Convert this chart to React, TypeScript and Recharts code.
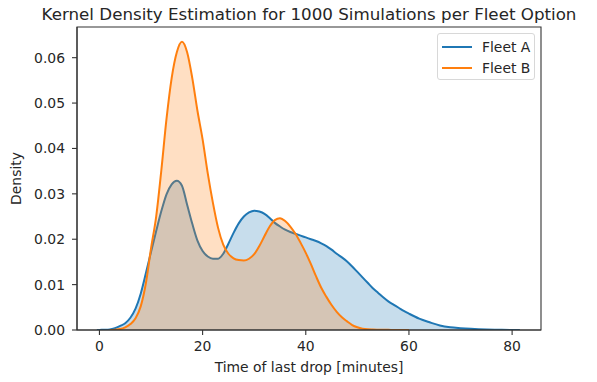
import { ComposedChart, Area, XAxis, YAxis, Legend, Label, ReferenceArea } from 'recharts';

// time of last drop, minutes (Fleet A grid)
const timesA = [
  -0.5, 0, 1, 2, 3, 4, 5, 6, 7, 8, 9, 10, 11, 12, 13, 14, 15, 16, 17, 18, 19, 20,
  21, 22, 23, 24, 25, 26, 27, 28, 29, 30, 31, 32, 33, 34, 35, 36, 37, 38, 39, 40,
  41, 42, 43, 44, 45, 46, 47, 48, 49, 50, 51, 52, 53, 54, 55, 56, 57, 58, 59, 60,
  62, 64, 66, 68, 70, 72, 75, 78, 81.5,
];
const fleetA = [
  0, 0.00002, 0.00005, 0.00012, 0.0004, 0.0009, 0.0015, 0.0027, 0.0047, 0.008, 0.0125, 0.0172,
  0.0218, 0.0262, 0.0299, 0.0321, 0.0329, 0.0318, 0.0276, 0.0234, 0.0197, 0.0174,
  0.0162, 0.0157, 0.0157, 0.0168, 0.019, 0.0214, 0.0235, 0.025, 0.0259, 0.0263,
  0.0261, 0.0256, 0.0247, 0.0236, 0.0228, 0.0221, 0.0216, 0.0212, 0.0208, 0.0204,
  0.02, 0.0196, 0.0191, 0.0185, 0.0177, 0.0168, 0.016, 0.0151, 0.014, 0.0128,
  0.0116, 0.0104, 0.0092, 0.0082, 0.0072, 0.0063, 0.0056, 0.0049, 0.0042, 0.0036,
  0.0025, 0.0017, 0.001, 0.0006, 0.0004, 0.00025, 0.0001, 0.00004, 0,
];

// Fleet B covers a shorter range
const timesB = [
  2, 3, 4, 5, 6, 7, 8, 9, 10, 11, 12, 13, 14, 15, 16, 17, 18, 19, 20, 21, 22, 23,
  24, 25, 26, 27, 28, 29, 30, 31, 32, 33, 34, 35, 36, 37, 38, 39, 40, 41, 42, 43,
  44, 45, 46, 47, 48, 49, 50, 51, 52, 53, 54, 55, 56, 57, 58, 59, 60,
];
const fleetB = [
  0, 0.00005, 0.0002, 0.0006, 0.0013, 0.0026, 0.0052, 0.0103, 0.018, 0.025, 0.0352, 0.0465,
  0.0555, 0.0612, 0.0635, 0.0612, 0.0555, 0.0483, 0.042, 0.0345, 0.028, 0.0225,
  0.0188, 0.0168, 0.0158, 0.0154, 0.0153, 0.0157, 0.0167, 0.0185, 0.0207, 0.0228,
  0.0242, 0.0246, 0.024, 0.0228, 0.0212, 0.0192, 0.017, 0.0145, 0.0118, 0.0093,
  0.0073, 0.0055, 0.004, 0.0028, 0.0019, 0.0011, 0.0006, 0.0003, 0.00015, 0.0001,
  0.00006, 0.00004, 0.00003, 0.00002, 0.00001, 0.00001, 0,
];

const xTicks = [0, 20, 40, 60, 80];
const yTicks = [0, 0.01, 0.02, 0.03, 0.04, 0.05, 0.06];
const xDomain = [-4.35, 85.6];
const yDomain = [0, 0.06676];

const series = [
  { key: 'a', name: 'Fleet A', color: '#1f77b4' },
  { key: 'b', name: 'Fleet B', color: '#ff7f0e' },
];

const rows = timesA.map((t, i) => {
  const j = timesB.indexOf(t);
  return { t, a: fleetA[i], b: j >= 0 ? fleetB[j] : null };
});

const FONT = '"DejaVu Sans", sans-serif';
const TEXT = '#262626';
const tickStyle = { fontSize: 13.9, fill: TEXT, fontFamily: FONT };

function LegendBox() {
  return (
    <div
      style={{
        width: 98,
        height: 47,
        boxSizing: 'border-box',
        border: '1px solid #d8d8d8',
        borderRadius: 3,
        background: 'rgba(255,255,255,0.8)',
        fontFamily: FONT,
        fontSize: 13.9,
        color: TEXT,
        position: 'relative',
      }}
    >
      {series.map((s, i) => (
        <div
          key={s.key}
          style={{ position: 'absolute', left: 4, top: 4 + i * 20.7, height: 18, display: 'flex', alignItems: 'center' }}
        >
          <span style={{ display: 'inline-block', width: 30, height: 2, background: s.color }} />
          <span style={{ marginLeft: 10, lineHeight: '18px' }}>{s.name}</span>
        </div>
      ))}
    </div>
  );
}

export default function App() {
  return (
    <div style={{ position: 'absolute', left: 0, top: 0, width: 597, height: 382, background: '#fff' }}>
      <div
        style={{
          position: 'absolute',
          left: 0,
          width: 618,
          top: 6,
          textAlign: 'center',
          fontFamily: FONT,
          fontSize: 16.7,
          lineHeight: '16.7px',
          color: TEXT,
          whiteSpace: 'nowrap',
        }}
      >
        Kernel Density Estimation for 1000 Simulations per Fleet Option
      </div>
      <ComposedChart
        width={597}
        height={382}
        data={rows}
        margin={{ top: 27, right: 56, bottom: 0, left: 0 }}
      >
        <XAxis
          dataKey="t"
          type="number"
          domain={xDomain}
          ticks={xTicks}
          allowDataOverflow
          height={52}
          tickSize={5}
          tickMargin={6}
          tick={tickStyle}
          stroke="#333"
          strokeWidth={1.1}
          tickLine={{ stroke: '#333' }}
        >
          <Label
            value="Time of last drop [minutes]"
            position="insideBottom"
            offset={10}
            style={{ fontSize: 13.9, fill: TEXT, fontFamily: FONT }}
          />
        </XAxis>
        <YAxis
          type="number"
          domain={yDomain}
          ticks={yTicks}
          allowDataOverflow
          width={77}
          tickSize={5}
          tickMargin={7}
          tick={tickStyle}
          tickFormatter={(v: number) => v.toFixed(2)}
          stroke="#333"
          strokeWidth={1.1}
          tickLine={{ stroke: '#333' }}
        >
          <Label
            value="Density"
            angle={-90}
            position="insideLeft"
            offset={16}
            style={{ fontSize: 13.9, fill: TEXT, fontFamily: FONT, textAnchor: 'middle' }}
          />
        </YAxis>
        {series.map((s) => (
          <Area
            key={s.key}
            type="monotone"
            dataKey={s.key}
            name={s.name}
            stroke={s.color}
            strokeWidth={2}
            fill={s.color}
            fillOpacity={0.25}
            dot={false}
            activeDot={false}
            isAnimationActive={false}
          />
        ))}
        {/* frame on all four sides, like the matplotlib spines */}
        <ReferenceArea
          x1={xDomain[0]}
          x2={xDomain[1]}
          y1={yDomain[0]}
          y2={yDomain[1]}
          fill="none"
          stroke="#333"
          strokeWidth={1.1}
          ifOverflow="visible"
        />
        <Legend
          layout="horizontal"
          verticalAlign="middle"
          align="center"
          content={() => <LegendBox />}
          wrapperStyle={{ position: 'absolute', left: 437, top: 33, width: 98, height: 47 }}
        />
      </ComposedChart>
    </div>
  );
}
